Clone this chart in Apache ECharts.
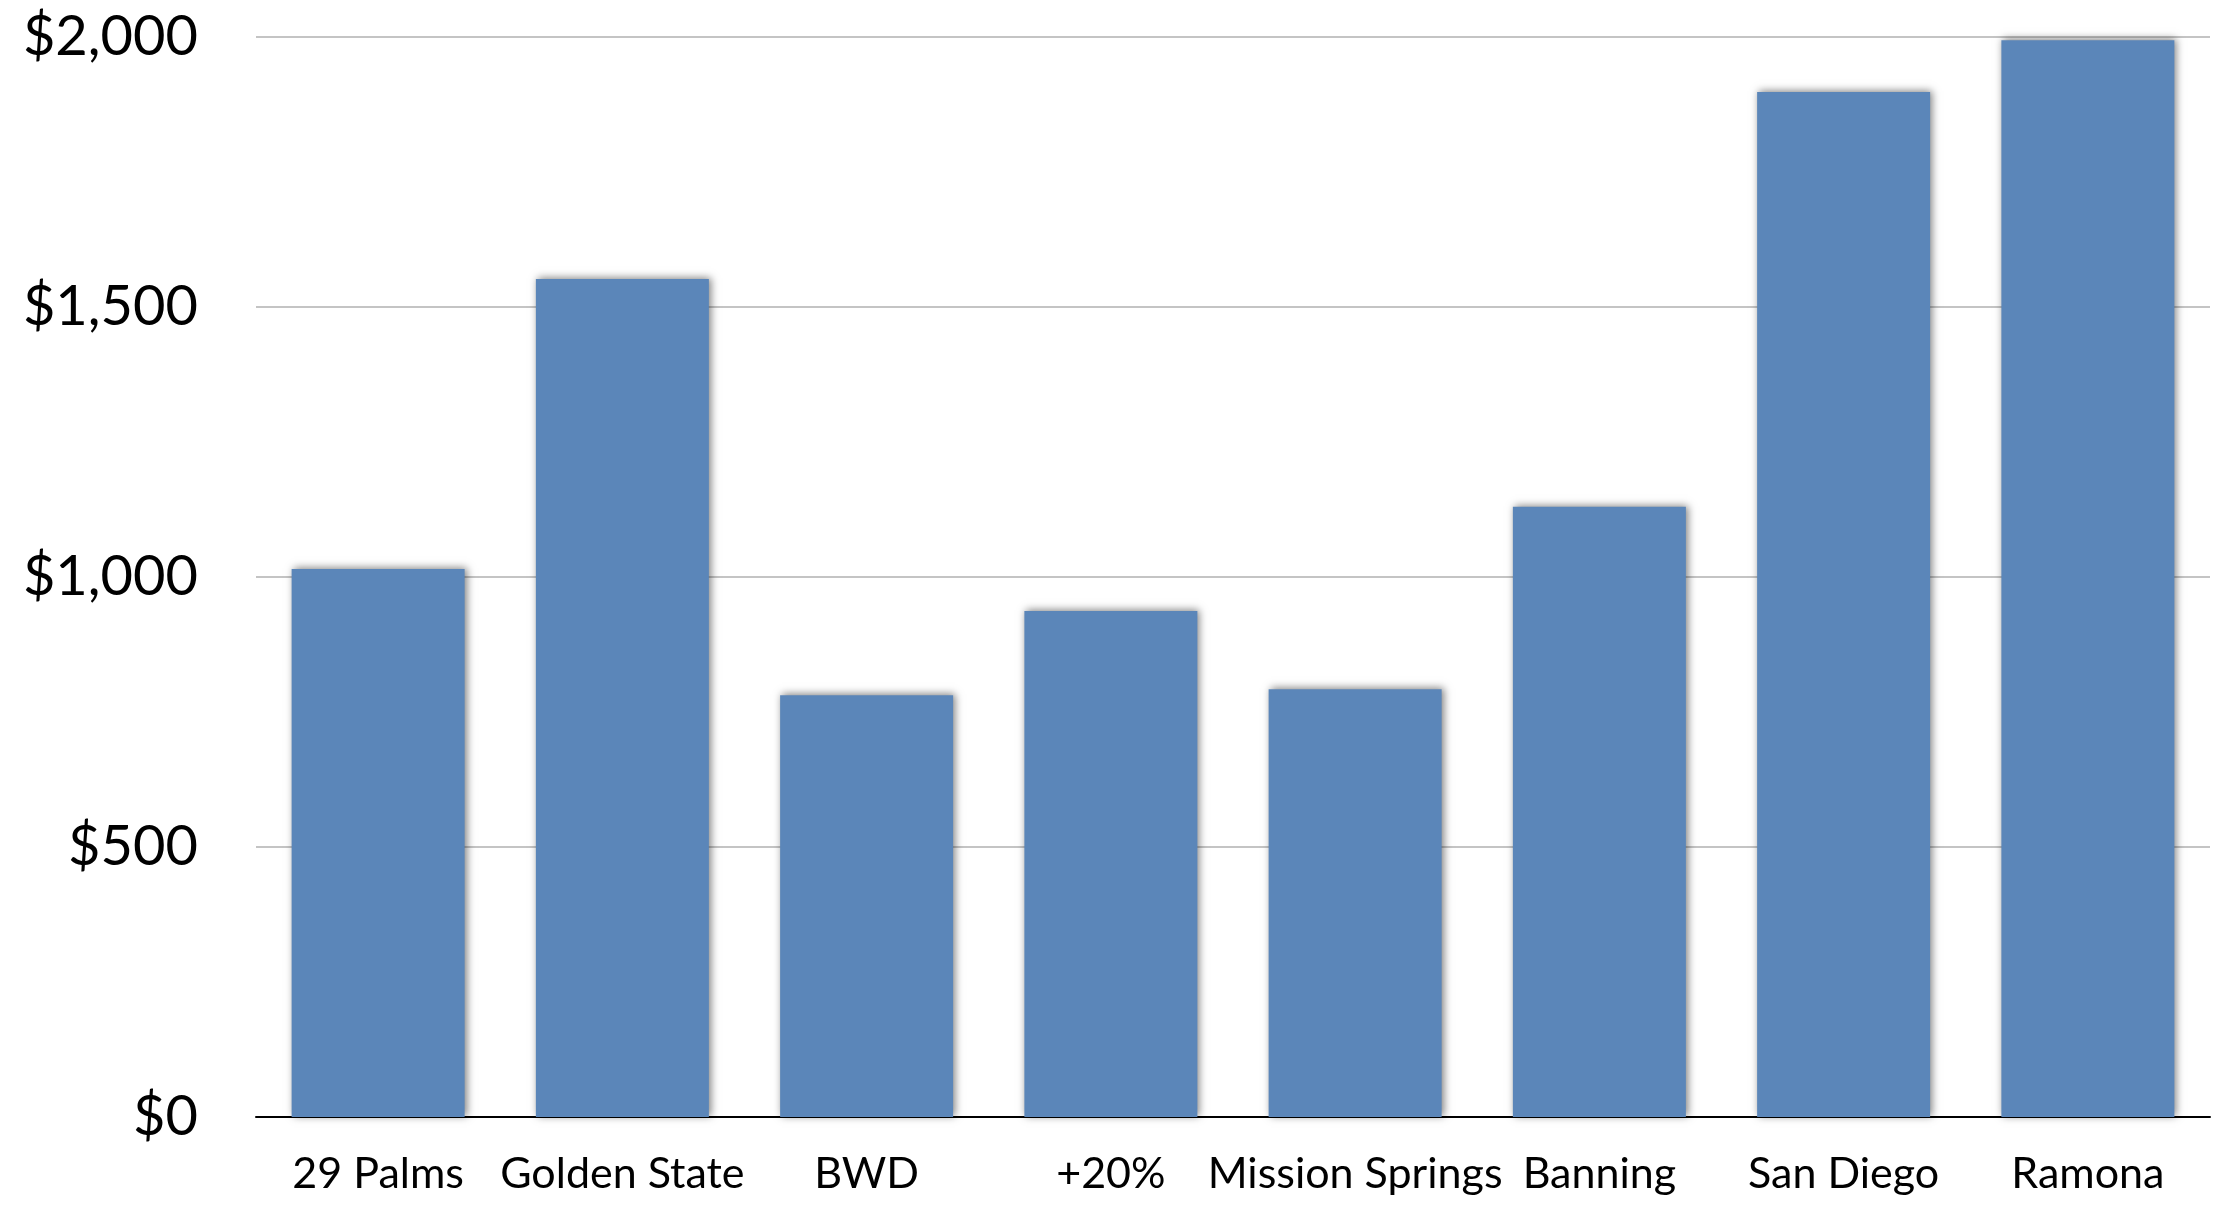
<!DOCTYPE html>
<html>
<head>
<meta charset="utf-8">
<script src="https://cdn.jsdelivr.net/npm/echarts@6/dist/echarts.min.js"></script>
<style>
  html, body { margin: 0; padding: 0; background: #fff; }
  #chart { width: 2228px; height: 1210px; }
</style>
</head>
<body>
<div id="chart"></div>
<script>
const categories = ['29 Palms', 'Golden State', 'BWD', '+20%', 'Mission Springs', 'Banning', 'San Diego', 'Ramona'];
const costs = [1015, 1552, 781, 937, 792, 1130, 1898, 1994];
const yTicks = { min: 0, max: 2000, interval: 500 };

(() => {
  const target = document.querySelector('#chart');
  const chart = echarts.init(target, null, { renderer: 'canvas' });
  const font = 'Lato, "Open Sans", sans-serif';

  chart.setOption({
    animation: false,
    grid: { left: 256, right: 18, top: 37, bottom: 93 },
    xAxis: {
      type: 'category',
      data: categories,
      axisTick: { show: false },
      axisLine: { lineStyle: { color: '#000', width: 2 } },
      axisLabel: { color: '#000', fontFamily: font, fontSize: 43, margin: 36, interval: 0 },
    },
    yAxis: {
      type: 'value',
      min: yTicks.min,
      max: yTicks.max,
      interval: yTicks.interval,
      axisLine: { show: false },
      axisTick: { show: false },
      axisLabel: {
        color: '#000', fontFamily: font, fontSize: 56, margin: 58,
        formatter: (v) => '$' + v.toLocaleString('en-US'),
      },
      splitLine: { lineStyle: { color: '#c4c4c4', width: 2 } },
    },
    series: [{
      type: 'bar',
      data: costs,
      barWidth: 173,
      itemStyle: {
        color: '#5b86b9',
        shadowColor: 'rgba(0,0,0,0.5)',
        shadowBlur: 8,
        shadowOffsetX: 2,
        shadowOffsetY: -1,
      },
    }],
  });
})();
</script>
</body>
</html>
